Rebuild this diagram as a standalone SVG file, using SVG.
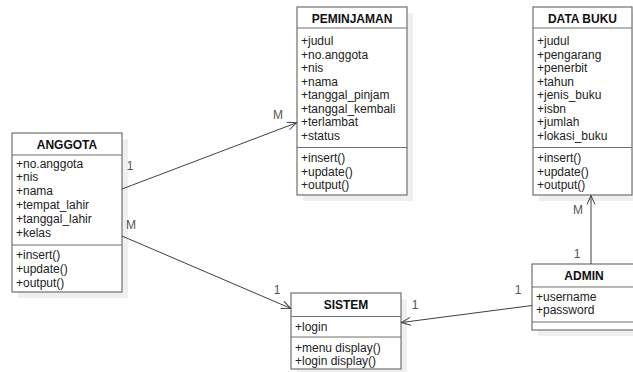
<svg xmlns="http://www.w3.org/2000/svg" width="633" height="372" viewBox="0 0 633 372">
<defs>
<marker id="open" markerUnits="userSpaceOnUse" markerWidth="14" markerHeight="12" refX="10" refY="5" orient="auto">
<path d="M1,1 L10,5 L1,9" fill="none" stroke="#404040" stroke-width="1"/>
</marker>
</defs>
<style>
.shadow{fill:#efefef;stroke:none}
.box{fill:#ffffff;stroke:#707070;stroke-width:1.2}
.sep{stroke:#707070;stroke-width:1.2}
.title{font-family:"Liberation Sans",Arial,sans-serif;font-size:12px;font-weight:bold;fill:#111;text-anchor:middle}
.attr{font-family:"Liberation Sans",Arial,sans-serif;font-size:12px;fill:#222}
.lbl{font-family:"Liberation Sans",Arial,sans-serif;font-size:12px;fill:#555;text-anchor:middle}
.conn{fill:none;stroke:#404040;stroke-width:1}
</style>
<rect width="633" height="372" fill="#ffffff"/>

<g id="anggota">
<rect class="shadow" x="18" y="139" width="110" height="159"/>
<rect class="box" x="12" y="133" width="110" height="159"/>
<line class="sep" x1="12" y1="155" x2="122" y2="155"/>
<line class="sep" x1="12" y1="245" x2="122" y2="245"/>
<text class="title" x="67" y="148.5">ANGGOTA</text>
<text class="attr" x="16" y="167.5">+no.anggota</text>
<text class="attr" x="16" y="181.4">+nis</text>
<text class="attr" x="16" y="195.3">+nama</text>
<text class="attr" x="16" y="209.2">+tempat_lahir</text>
<text class="attr" x="16" y="223.1">+tanggal_lahir</text>
<text class="attr" x="16" y="237">+kelas</text>
<text class="attr" x="16" y="259">+insert()</text>
<text class="attr" x="16" y="272.8">+update()</text>
<text class="attr" x="16" y="286.6">+output()</text>
</g>

<g id="peminjaman">
<rect class="shadow" x="303" y="13" width="110" height="188"/>
<rect class="box" x="297" y="7" width="110" height="188"/>
<line class="sep" x1="297" y1="28" x2="407" y2="28"/>
<line class="sep" x1="297" y1="147.5" x2="407" y2="147.5"/>
<text class="title" x="352" y="22.5">PEMINJAMAN</text>
<text class="attr" x="301" y="45">+judul</text>
<text class="attr" x="301" y="58.5">+no.anggota</text>
<text class="attr" x="301" y="72">+nis</text>
<text class="attr" x="301" y="85.5">+nama</text>
<text class="attr" x="301" y="99">+tanggal_pinjam</text>
<text class="attr" x="301" y="112.5">+tanggal_kembali</text>
<text class="attr" x="301" y="126">+terlambat</text>
<text class="attr" x="301" y="139.5">+status</text>
<text class="attr" x="301" y="162">+insert()</text>
<text class="attr" x="301" y="175.5">+update()</text>
<text class="attr" x="301" y="189">+output()</text>
</g>

<g id="databuku">
<rect class="shadow" x="539" y="13" width="100" height="188"/>
<rect class="box" x="533" y="7" width="99" height="188"/>
<line class="sep" x1="533" y1="28" x2="632" y2="28"/>
<line class="sep" x1="533" y1="147.5" x2="632" y2="147.5"/>
<text class="title" x="582.5" y="22.5">DATA BUKU</text>
<text class="attr" x="537" y="45">+judul</text>
<text class="attr" x="537" y="58.5">+pengarang</text>
<text class="attr" x="537" y="72">+penerbit</text>
<text class="attr" x="537" y="85.5">+tahun</text>
<text class="attr" x="537" y="99">+jenis_buku</text>
<text class="attr" x="537" y="112.5">+isbn</text>
<text class="attr" x="537" y="126">+jumlah</text>
<text class="attr" x="537" y="139.5">+lokasi_buku</text>
<text class="attr" x="537" y="162">+insert()</text>
<text class="attr" x="537" y="175.5">+update()</text>
<text class="attr" x="537" y="189">+output()</text>
</g>

<g id="admin">
<rect class="shadow" x="538" y="270" width="100" height="66"/>
<rect class="box" x="532" y="264" width="110" height="66"/>
<line class="sep" x1="532" y1="287" x2="642" y2="287"/>
<line class="sep" x1="532" y1="322" x2="642" y2="322"/>
<text class="title" x="584" y="280">ADMIN</text>
<text class="attr" x="536" y="301">+username</text>
<text class="attr" x="536" y="314">+password</text>
</g>

<g id="sistem">
<rect class="shadow" x="297" y="299" width="110" height="76"/>
<rect class="box" x="291" y="293" width="110" height="76"/>
<line class="sep" x1="291" y1="316.5" x2="401" y2="316.5"/>
<line class="sep" x1="291" y1="337" x2="401" y2="337"/>
<text class="title" x="346" y="308.5">SISTEM</text>
<text class="attr" x="295" y="331">+login</text>
<text class="attr" x="295" y="351.5">+menu display()</text>
<text class="attr" x="295" y="365">+login display()</text>
</g>

<g id="connectors">
<line class="conn" x1="122" y1="189" x2="296.5" y2="122.8" marker-end="url(#open)"/>
<line class="conn" x1="122" y1="236" x2="290.5" y2="308.3" marker-end="url(#open)"/>
<line class="conn" x1="532" y1="305.5" x2="401.5" y2="322.5" marker-end="url(#open)"/>
<line class="conn" x1="591" y1="264" x2="591" y2="195.5" marker-end="url(#open)"/>
<text class="lbl" x="130" y="170">1</text>
<text class="lbl" x="131" y="228.5">M</text>
<text class="lbl" x="278" y="119">M</text>
<text class="lbl" x="277" y="294">1</text>
<text class="lbl" x="415" y="309">1</text>
<text class="lbl" x="518" y="293.5">1</text>
<text class="lbl" x="578" y="214">M</text>
<text class="lbl" x="577" y="257.5">1</text>
</g>
</svg>
